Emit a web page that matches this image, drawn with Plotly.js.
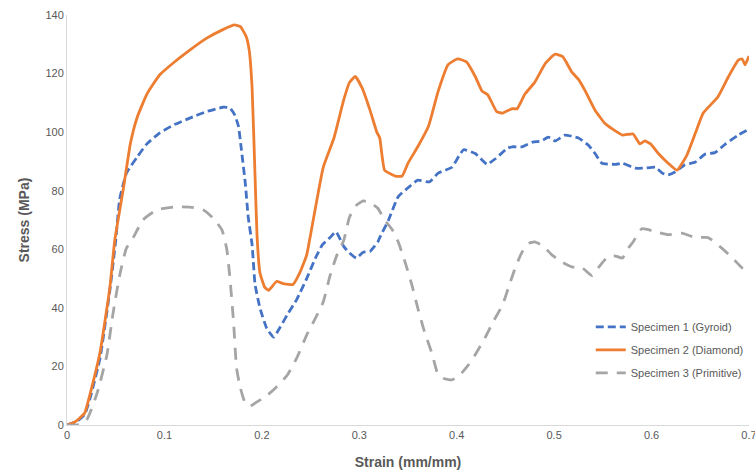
<!DOCTYPE html>
<html>
<head>
<meta charset="utf-8">
<script src="https://cdn.plot.ly/plotly-3.0.1.min.js"></script>
<style>html,body{margin:0;padding:0;background:#fff;}#chart{width:755px;height:472px;}</style>
</head>
<body>
<div id="chart"></div>
<script>
const seriesNames = ["Specimen 1 (Gyroid)", "Specimen 2 (Diamond)", "Specimen 3 (Primitive)"];

const gyroidStrain = [0,0.01,0.018,0.024,0.034,0.044,0.05,0.054,0.061,0.072,0.082,0.095,0.109,0.126,0.143,0.16,0.167,0.172,0.176,0.179,0.183,0.186,0.19,0.193,0.198,0.205,0.212,0.219,0.226,0.236,0.246,0.255,0.262,0.27,0.276,0.284,0.29,0.297,0.304,0.311,0.319,0.321,0.33,0.34,0.35,0.36,0.372,0.381,0.395,0.407,0.419,0.426,0.431,0.44,0.452,0.457,0.467,0.478,0.487,0.494,0.501,0.511,0.525,0.535,0.542,0.549,0.563,0.57,0.583,0.593,0.604,0.611,0.617,0.624,0.634,0.645,0.655,0.665,0.676,0.689,0.7];
const gyroidStress = [0,1.2,3.5,9.5,23,46,63,77,86,91.5,96,99.7,102.4,104.8,107,108.5,108.3,106,102,94,82.6,71,61.5,48,40,33,30,33.5,37.6,43,50,57,61.5,64,66,61,58.7,57,59,59.3,62.5,64,70,78,81,83.6,83,86,88,94,92.7,90.5,89,91,94.5,95,95,96.6,97,98.3,97,99,98,95.6,92.7,89.4,89,89.4,87.7,87.7,88,86,85.4,86.4,88.8,89.8,92.5,93,96,99,101];

const diamondStrain = [0,0.008,0.018,0.024,0.034,0.044,0.049,0.058,0.065,0.072,0.082,0.095,0.109,0.126,0.143,0.16,0.172,0.178,0.184,0.187,0.19,0.193,0.195,0.198,0.203,0.207,0.215,0.222,0.232,0.239,0.246,0.25,0.263,0.274,0.284,0.29,0.296,0.303,0.311,0.318,0.321,0.326,0.337,0.344,0.35,0.36,0.371,0.381,0.391,0.401,0.41,0.419,0.426,0.432,0.441,0.447,0.457,0.462,0.47,0.48,0.491,0.501,0.509,0.518,0.525,0.532,0.542,0.552,0.56,0.57,0.581,0.588,0.593,0.599,0.607,0.617,0.626,0.636,0.645,0.653,0.668,0.679,0.689,0.693,0.696,0.7];
const diamondStress = [0,1,4,11,25,47,63,81,96,105,113,119.5,123.6,128,132,135,136.6,136,132.6,128,115,85,65,52,47,46,49,48.3,48,52,58,65,88,98,111,117,119,115,107.5,100,98,87,85,85,89.4,95,102,114,123,125,124,119,114,112.7,107,106.5,108,108,113,117,123.5,126.6,125.7,120.6,118,114,107.5,103,101,99,99.4,96,97,96,92.7,89.4,87,92,99.7,106.5,112,119,124.6,125,123,126];

const primitiveStrain = [0,0.01,0.02,0.031,0.041,0.047,0.054,0.061,0.068,0.078,0.092,0.109,0.126,0.14,0.15,0.159,0.164,0.167,0.171,0.174,0.178,0.183,0.188,0.195,0.205,0.215,0.226,0.236,0.246,0.255,0.263,0.27,0.277,0.284,0.29,0.297,0.304,0.311,0.319,0.326,0.334,0.34,0.347,0.354,0.36,0.367,0.375,0.38,0.386,0.395,0.403,0.412,0.419,0.429,0.437,0.447,0.453,0.46,0.467,0.474,0.48,0.489,0.498,0.508,0.518,0.529,0.539,0.546,0.555,0.563,0.57,0.576,0.581,0.59,0.604,0.617,0.631,0.645,0.658,0.672,0.683,0.693,0.7];
const primitiveStress = [0,0,1.7,11,24,37.6,51,60.4,64,70,73.4,74.4,74.4,73.4,70.6,66.6,60,51,35,19.5,12.6,7.5,6.5,7.9,10,13,17,23,30.7,36.5,42,51,58,63,71,75,76.5,76,74,70,66.6,62.5,55.6,47.8,40,31.8,24,18,16,15.4,17,20.5,24,29.7,35,41,46.8,53.6,59,62,62.5,61,58,55.6,54,53.6,51,54,57.4,57.7,57,60.4,62.5,67,66,65,65.5,64,64,60.4,57,53.6,52];

const xTicks = [0,0.1,0.2,0.3,0.4,0.5,0.6,0.7];
const xTickLabels = ["0","0.1","0.2","0.3","0.4","0.5","0.6","0.7"];
const yTicks = [0,20,40,60,80,100,120,140];

const traces = [
  {x: gyroidStrain, y: gyroidStress, name: seriesNames[0], legendgroup: "g1", mode: "lines",
   line: {color: "#4472C4", width: 2.8, dash: "8px,4px", shape: "spline", smoothing: 0.4}},
  {x: diamondStrain, y: diamondStress, name: seriesNames[1], legendgroup: "g2", mode: "lines",
   line: {color: "#ED7D31", width: 2.8, shape: "spline", smoothing: 0.4}},
  {x: primitiveStrain, y: primitiveStress, name: seriesNames[2], legendgroup: "g3", mode: "lines",
   line: {color: "#A5A5A5", width: 2.8, dash: "12px,9px", shape: "spline", smoothing: 0.5}}
];

const layout = {
  width: 755, height: 472,
  margin: {l: 67, r: 6, t: 15, b: 47},
  paper_bgcolor: "#ffffff", plot_bgcolor: "#ffffff",
  font: {family: "Liberation Sans, Arial, sans-serif", color: "#595959", size: 11},
  showlegend: true,
  legend: {x: 0.768, y: 0.183, xanchor: "left", yanchor: "middle", bgcolor: "rgba(0,0,0,0)",
           font: {size: 11, color: "#595959"}, traceorder: "grouped", tracegroupgap: 4},
  xaxis: {range: [0, 0.7], tickvals: xTicks, ticktext: xTickLabels, showgrid: false, zeroline: false,
          showline: true, linecolor: "#D9D9D9", linewidth: 1, ticks: "", ticklen: 0,
          ticklabeloverflow: "allow",
          tickfont: {size: 11, color: "#595959"},
          title: {text: "<b>Strain (mm/mm)</b>", font: {size: 14, color: "#595959"}, standoff: 16}},
  yaxis: {range: [0, 140], tickvals: yTicks, showgrid: false, zeroline: false,
          showline: true, linecolor: "#D9D9D9", linewidth: 1, ticks: "", ticklen: 0,
          tickfont: {size: 11, color: "#595959"},
          title: {text: "<b>Stress (MPa)</b>", font: {size: 14, color: "#595959"}, standoff: 12}}
};

Plotly.newPlot("chart", traces, layout, {displayModeBar: false, staticPlot: true});
</script>
</body>
</html>
